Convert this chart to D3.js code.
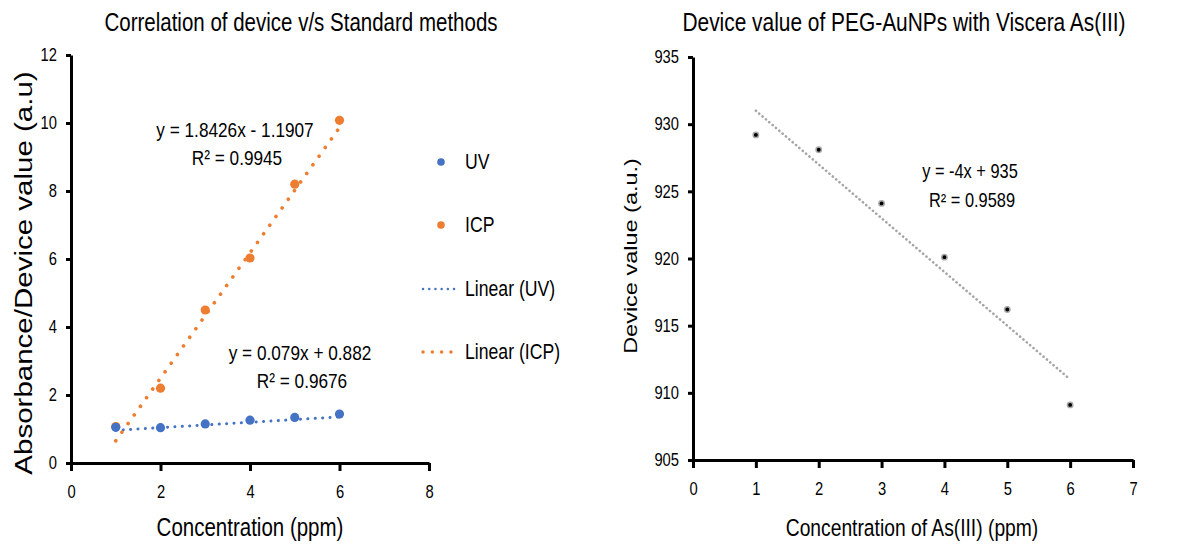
<!DOCTYPE html>
<html>
<head>
<meta charset="utf-8">
<script src="https://cdn.jsdelivr.net/npm/d3@7"></script>
<style>
  body { margin: 0; background: #fff; }
  svg text { fill: #000; font-family: "Liberation Sans", Arial, sans-serif; }
</style>
</head>
<body>
<svg id="chart" width="1180" height="546"></svg>
<script>
// left chart data
const conc = [1, 2, 3, 4, 5, 6];
const uvValues = [1.05, 1.04, 1.15, 1.26, 1.34, 1.44];
const icpValues = [1.07, 2.2, 4.5, 6.03, 8.2, 10.08];
const uvFit = { slope: 0.079, intercept: 0.882, r2: '0.9676' };
const icpFit = { slope: 1.8426, intercept: -1.1907, r2: '0.9945' };
const leftXTicks = [0, 2, 4, 6, 8];
const leftYTicks = [0, 2, 4, 6, 8, 10, 12];

// right chart data
const asConc = [1, 2, 3, 4, 5, 6];
const deviceValues = [929.2, 928.1, 924.1, 920.1, 916.2, 909.1];
const deviceFit = { slope: -4, intercept: 935, r2: '0.9589' };
const rightXTicks = [0, 1, 2, 3, 4, 5, 6, 7];
const rightYTicks = [905, 910, 915, 920, 925, 930, 935];

const colors = { uv: '#4472C4', icp: '#ED7D31', grey: '#A5A5A5' };
const squeeze = 0.82; // the whole picture looks squeezed sideways

const svg = d3.select('#chart');

// text that is narrowed horizontally, optionally rotated
function label(g, x, y, str, size, anchor, rotated) {
	return g.append('text')
		.attr('transform', `translate(${x},${y}) scale(${squeeze},1)` + (rotated ? ' rotate(-90)' : ''))
		.attr('text-anchor', anchor || 'middle')
		.style('font-size', size + 'px')
		.text(str);
}

function drawAxes(g, x, y, xTicks, yTicks) {
	const xAxis = g.append('g')
		.attr('transform', `translate(0,${y.range()[0]})`)
		.call(d3.axisBottom(x).tickValues(xTicks).tickFormat(d3.format('d'))
			.tickSize(8).tickSizeOuter(0).tickPadding(14));
	const yAxis = g.append('g')
		.attr('transform', `translate(${x.range()[0]},0)`)
		.call(d3.axisLeft(y).tickValues(yTicks).tickSize(5).tickSizeOuter(0));
	[xAxis, yAxis].forEach(a => {
		a.select('.domain').attr('stroke', '#000').attr('stroke-width', 3);
		a.selectAll('.tick line').attr('stroke', '#000').attr('stroke-width', 3);
		a.selectAll('.tick text').style('font-size', '18px').attr('fill', '#000')
			.style('font-family', '"Liberation Sans", Arial, sans-serif');
	});
	xAxis.selectAll('.tick text').attr('transform', `scale(${squeeze},1)`);
	yAxis.selectAll('.tick text').attr('x', 0).attr('transform', `translate(-14,0) scale(${squeeze},1)`);
}

const fitLine = (x, y, fit, xs) => d3.line()
	.x(d => x(d))
	.y(d => y(fit.slope * d + fit.intercept))(d3.extent(xs));

function equation(g, cx, cy, fit, size, gap) {
	const sign = fit.intercept < 0 ? '- ' : '+ ';
	label(g, cx, cy, `y = ${fit.slope}x ${sign}${Math.abs(fit.intercept)}`, size);
	label(g, cx + 2, cy + gap, `R² = ${fit.r2}`, size);
}

// ---------- left chart ----------
const left = svg.append('g');
const xL = d3.scaleLinear().domain([0, 8]).range([71, 429]);
const yL = d3.scaleLinear().domain([0, 12]).range([463, 55]);

left.append('path')
	.attr('d', fitLine(xL, yL, uvFit, conc))
	.attr('stroke', colors.uv).attr('stroke-width', 3).attr('fill', 'none')
	.attr('stroke-dasharray', '0.1,7.3').attr('stroke-linecap', 'round');
left.append('path')
	.attr('d', fitLine(xL, yL, icpFit, conc))
	.attr('stroke', colors.icp).attr('stroke-width', 3.6).attr('fill', 'none')
	.attr('stroke-dasharray', '0.1,10.5').attr('stroke-linecap', 'round');

left.append('g').selectAll('circle').data(conc)
	.enter().append('circle')
		.attr('cx', d => xL(d))
		.attr('cy', (d, i) => yL(icpValues[i]))
		.attr('r', 4.6).attr('fill', colors.icp);
left.append('g').selectAll('circle').data(conc)
	.enter().append('circle')
		.attr('cx', d => xL(d))
		.attr('cy', (d, i) => yL(uvValues[i]))
		.attr('r', 4.6).attr('fill', colors.uv);

drawAxes(left, xL, yL, leftXTicks, leftYTicks);

label(left, 301, 31, 'Correlation of device v/s Standard methods', 25);
label(left, 250, 536, 'Concentration (ppm)', 25);
label(left, 32, 273, 'Absorbance/Device value (a.u)', 29.5, 'middle', true);

equation(left, 235, 137, icpFit, 21, 28);
equation(left, 300, 360, uvFit, 21, 28);

// legend
const legend = left.append('g');
const legendItems = [
	{ label: 'UV', y: 162, type: 'dot', color: colors.uv },
	{ label: 'ICP', y: 225, type: 'dot', color: colors.icp },
	{ label: 'Linear (UV)', y: 289, type: 'line', color: colors.uv, width: 2.4, gap: '0.1,6.1' },
	{ label: 'Linear (ICP)', y: 352, type: 'line', color: colors.icp, width: 3.4, gap: '0.1,9.2' }
];
legendItems.forEach(item => {
	if (item.type === 'dot') {
		legend.append('circle').attr('cx', 441).attr('cy', item.y).attr('r', 3.8).attr('fill', item.color);
	} else {
		legend.append('line').attr('x1', 423).attr('x2', 460).attr('y1', item.y).attr('y2', item.y)
			.attr('stroke', item.color).attr('stroke-width', item.width)
			.attr('stroke-dasharray', item.gap).attr('stroke-linecap', 'round');
	}
	label(legend, 465, item.y + 7, item.label, 21.5, 'start');
});

// ---------- right chart ----------
const right = svg.append('g');
const xR = d3.scaleLinear().domain([0, 7]).range([693, 1133]);
const yR = d3.scaleLinear().domain([905, 935]).range([460, 57]);

right.append('path')
	.attr('d', fitLine(xR, yR, deviceFit, asConc))
	.attr('stroke', colors.grey).attr('stroke-width', 2.6).attr('fill', 'none')
	.attr('stroke-dasharray', '0.1,4.3').attr('stroke-linecap', 'round');

right.append('g').selectAll('circle').data(asConc)
	.enter().append('circle')
		.attr('cx', d => xR(d))
		.attr('cy', (d, i) => yR(deviceValues[i]))
		.attr('r', 2.7).attr('fill', '#000')
		.attr('stroke', '#aaa').attr('stroke-width', 1.5);

drawAxes(right, xR, yR, rightXTicks, rightYTicks);

label(right, 904, 31, 'Device value of PEG-AuNPs with Viscera As(III)', 25.5);
label(right, 912, 536, 'Concentration of As(III) (ppm)', 23.5);
label(right, 637, 256, 'Device value (a.u.)', 23.5, 'middle', true);

equation(right, 970, 178, deviceFit, 20, 29);
</script>
</body>
</html>
